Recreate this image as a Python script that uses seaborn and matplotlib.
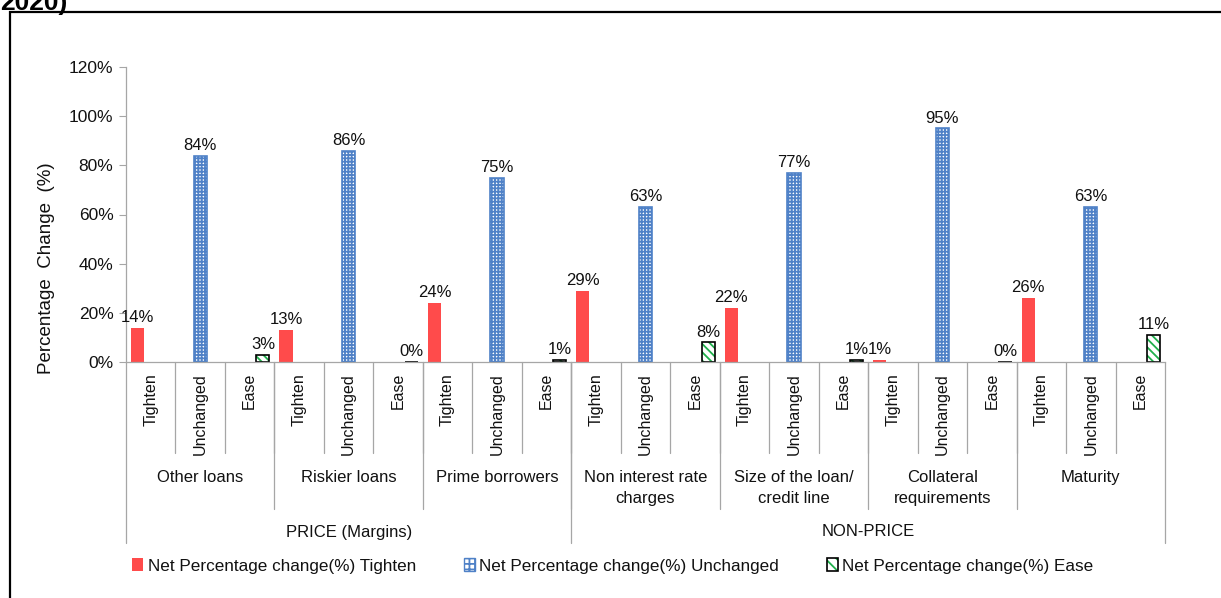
import matplotlib
matplotlib.use("Agg")
import matplotlib.pyplot as plt
import matplotlib.patches as mpatches
from matplotlib.legend_handler import HandlerTuple
import seaborn as sns
import pandas as pd

# ---- data ----
groups = ["Other loans", "Riskier loans", "Prime borrowers",
          "Non interest rate\ncharges", "Size of the loan/\ncredit line",
          "Collateral\nrequirements", "Maturity"]
top_groups = ["PRICE (Margins)", "NON-PRICE"]
top_group_sizes = [3, 4]
subcats = ["Tighten", "Unchanged", "Ease"]
tighten = [14, 13, 24, 29, 22, 1, 26]
unchanged = [84, 86, 75, 63, 77, 95, 63]
ease = [3, 0, 1, 8, 1, 0, 11]
series_names = ["Net Percentage change(%) Tighten",
                "Net Percentage change(%) Unchanged",
                "Net Percentage change(%) Ease"]
yticks = [0, 20, 40, 60, 80, 100, 120]

rows = []
for gi, g in enumerate(groups):
    for si, (s, vals) in enumerate(zip(subcats, [tighten, unchanged, ease])):
        rows.append({"slot": f"{gi}|{s}", "sub": s, "series": series_names[si],
                     "value": vals[gi]})
df = pd.DataFrame(rows)
slot_order = list(df["slot"])

sns.set_theme(style="white")
FONT = ["Liberation Sans", "DejaVu Sans"]
plt.rcParams["font.family"] = FONT
plt.rcParams["hatch.linewidth"] = 1.3

W, H = 1221, 598
fig = plt.figure(figsize=(W / 100, H / 100), dpi=100)
ax_l, ax_r, ax_t, ax_b = 126, 1165, 67, 362
ax = fig.add_axes([ax_l / W, 1 - ax_b / H, (ax_r - ax_l) / W, (ax_b - ax_t) / H])
axh = ax_b - ax_t

red = "#FF4B4B"
blue = "#4F81C7"
green = "#1FAF4B"
txt = "#111111"

sns.barplot(data=df, x="slot", y="value", hue="series", order=slot_order,
            hue_order=series_names, dodge=True, width=0.8, ax=ax,
            errorbar=None, legend=False)

conts = ax.containers
for p in conts[0]:
    p.set_facecolor(red); p.set_edgecolor(red); p.set_linewidth(0)
for p in conts[1]:
    p.set_facecolor("white"); p.set_edgecolor(blue); p.set_hatch("+++++"); p.set_linewidth(1.2)
for p in conts[2]:
    p.set_facecolor("white"); p.set_edgecolor(green); p.set_hatch("\\\\\\\\"); p.set_linewidth(0)
    outline = mpatches.Rectangle(p.get_xy(), p.get_width(), p.get_height(),
                                 fill=False, edgecolor="black", linewidth=1.2)
    ax.add_patch(outline)

for cont in conts:
    for p in cont:
        h = p.get_height()
        if h != h:
            continue
        ax.annotate(f"{int(round(h))}%", (p.get_x() + p.get_width() / 2, h),
                    xytext=(0, 2), textcoords="offset points",
                    ha="center", va="bottom", fontsize=12, color=txt)

ax.set_xlim(-0.5, len(slot_order) - 0.5)
ax.set_ylim(0, 120)
ax.set_yticks(yticks)
ax.set_yticklabels([f"{v}%" for v in yticks], fontsize=12.5, color=txt)
ax.tick_params(axis="y", which="major", left=True, length=5, width=0.8, color="#A6A6A6", pad=4)
ax.set_xticks(range(len(slot_order)))
ax.set_xticklabels(list(df["sub"]), rotation=90, fontsize=11.5, color=txt,
                   va="top", ha="center")
ax.tick_params(axis="x", length=0, pad=8)
ax.set_xlabel("")
ax.set_ylabel("Percentage  Change  (%)", fontsize=13.5, color=txt)
ax.yaxis.set_label_coords(-0.068, (ax_b - 268) / axh)
for s in ["top", "right"]:
    ax.spines[s].set_visible(False)
for s in ["left", "bottom"]:
    ax.spines[s].set_color("#A6A6A6")
    ax.spines[s].set_linewidth(0.9)

trans = ax.get_xaxis_transform()
def yb(px):
    return -px / axh

lc = "#A6A6A6"
n = len(slot_order)
for k in range(1, n):
    x = k - 0.5
    ax.plot([x, x], [0, yb(91)], color=lc, lw=0.9, transform=trans, clip_on=False)
for k in range(1, len(groups)):
    x = 3 * k - 0.5
    ax.plot([x, x], [0, yb(147)], color=lc, lw=0.9, transform=trans, clip_on=False)
bounds = [0]
for sz in top_group_sizes:
    bounds.append(bounds[-1] + sz)
for b in bounds:
    x = 3 * b - 0.5
    ax.plot([x, x], [0, yb(181)], color=lc, lw=0.9, transform=trans, clip_on=False)

for gi, g in enumerate(groups):
    ax.text(3 * gi + 1, yb(108), g, transform=trans, ha="center", va="top",
            fontsize=12, color=txt, linespacing=1.5, multialignment="center")
for ti, t in enumerate(top_groups):
    xc = (3 * bounds[ti] - 0.5 + 3 * bounds[ti + 1] - 0.5) / 2
    ax.text(xc, yb(170), t, transform=trans, ha="center", va="center",
            fontsize=12, color=txt)

# legend
h_t = mpatches.Patch(facecolor=red, edgecolor=red, linewidth=0)
h_u = (mpatches.Patch(facecolor="white", edgecolor=blue, hatch="+++", linewidth=1),)
h_e = (mpatches.Patch(facecolor="white", edgecolor=green, hatch="\\\\\\", linewidth=0),
       mpatches.Patch(fill=False, edgecolor="black", linewidth=1.2))
leg = fig.legend(handles=[h_t, h_u, h_e], labels=series_names,
                 handler_map={tuple: HandlerTuple(ndivide=1, pad=0)},
                 loc="center left", bbox_to_anchor=(117 / W, 1 - 566 / H),
                 ncol=3, frameon=False, fontsize=12.3, handlelength=0.65, handleheight=0.75,
                 handletextpad=0.25, columnspacing=2.8, labelcolor=txt)

# frame and cut-off title
frame = mpatches.Rectangle((10 / W, -0.1), 1.2, (1 - 12 / H) + 0.1, transform=fig.transFigure,
                           fill=False, edgecolor="black", linewidth=1.6, clip_on=False)
fig.patches.append(frame)
fig.text(0.0, 1 - 10 / H, "2020)", ha="left", va="baseline", fontsize=19,
         fontweight="bold", color="black")

fig.savefig("out.png", dpi=100)
